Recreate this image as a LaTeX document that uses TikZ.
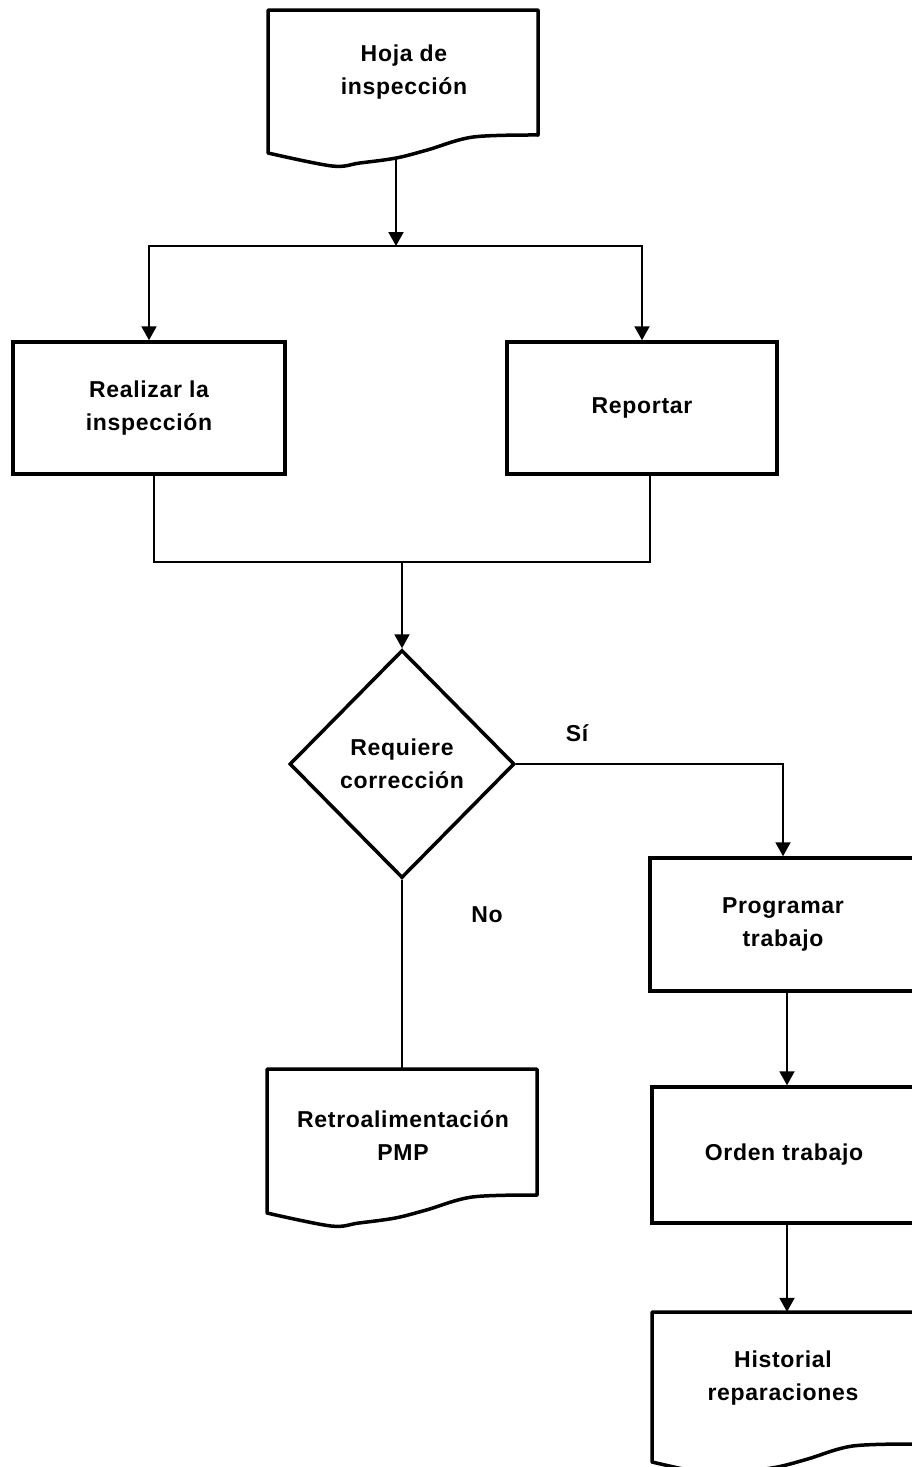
\documentclass[tikz,border=0pt]{standalone}
\usepackage{fontspec}
\setmainfont{Liberation Sans}[LetterSpace=3]
\usetikzlibrary{shapes.geometric,arrows.meta}
\tikzset{
  txt/.style={align=center, font=\bfseries\fontsize{23}{33}\selectfont, text=black, inner sep=0pt},
  procbox/.style={txt, draw, line width=3.5pt, rectangle},
  docnode/.style={txt, rectangle, draw=none},
  decision/.style={txt, draw, line width=3.5pt, diamond, inner sep=0pt},
  docline/.style={line width=3.5pt, line join=round},
  conn/.style={line width=2pt},
  arr/.style={conn, -{Triangle[width=15pt,length=14pt]}},
  lbl/.style={font=\bfseries\fontsize{23}{26}\selectfont, inner sep=0pt},
}
% document outline: left, top, right, bottom-left
\newcommand\docoutline[4]{%
  \draw[docline] plot[smooth, tension=0.55] coordinates {
    (#1,#4)
    ({#1+0.237*(#3-#1)},{#4+13})
    ({#1+0.34*(#3-#1)},{#4+10})
    ({#1+0.475*(#3-#1)},{#4+5})
    ({#1+0.59*(#3-#1)},{#4-3})
    ({#1+0.76*(#3-#1)},{#4-16})
    (#3,{#4-18})}
    -- (#3,#2) -- (#1,#2) -- cycle;}
\begin{document}
\begin{tikzpicture}[x=1pt,y=-1pt]
\useasboundingbox (0,0) rectangle (912,1467);
\clip (0,0) rectangle (912,1467);

% Hoja de inspeccion
\docoutline{268}{10}{538}{153}
\node[docnode] (hoja) at (404,72) {Hoja de\\inspección};
\coordinate (hojaout) at (396,158);

% process boxes
\node[procbox, minimum width=272pt, minimum height=132pt] (real) at (149,408) {Realizar la\\inspección};
\node[procbox, minimum width=270pt, minimum height=132pt] (rep) at (642,408) {Reportar};

% decision
\node[decision, minimum width=225pt, minimum height=228pt] (dec) at (402,764) {Requiere\\corrección};

% right column
\node[procbox, minimum width=266pt, minimum height=133pt] (prog) at (783,924.5) {Programar\\trabajo};
\node[procbox, minimum width=264pt, minimum height=136pt] (orden) at (784,1155) {Orden trabajo};

% Retroalimentacion PMP
\docoutline{267}{1069}{537}{1213}
\node[docnode, minimum width=270pt, minimum height=144pt] (retro) at (402,1141) {};
\node[txt] (retrotxt) at (403,1136) {Retroalimentación\\PMP};

% Historial reparaciones
\docoutline{652}{1312}{916}{1462}
\node[docnode, minimum width=264pt, minimum height=150pt] (hist) at (784,1387) {};
\node[txt] (histtxt) at (783,1378) {Historial\\reparaciones};

% labels
\node[lbl] (si) at (577,733) {Sí};
\node[lbl] (no) at (487,915) {No};

% connectors
\coordinate (j1) at (396,246);
\draw[arr] (hojaout) -- (j1);
\draw[arr] (j1) -| (real.north);
\draw[arr] (j1) -| (rep.north);

\coordinate (j2) at (402,562);
\draw[conn] ([xshift=5pt]real.south) |- (j2);
\draw[conn] ([xshift=8pt]rep.south) |- (j2);
\draw[arr] (j2) -- (dec.north);

\draw[arr] (dec.east) -| (prog.north);
\draw[conn] (dec.south) -- (retro.north);
\draw[arr] ([xshift=4pt]prog.south) -- ([xshift=3pt]orden.north);
\draw[arr] ([xshift=3pt]orden.south) -- ([xshift=3pt]hist.north);
\end{tikzpicture}
\end{document}
